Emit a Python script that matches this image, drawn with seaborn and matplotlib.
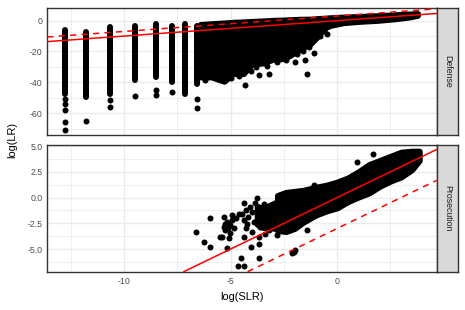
import numpy as np
import pandas as pd
import matplotlib
matplotlib.use("Agg")
import matplotlib.pyplot as plt
import seaborn as sns

# ---------------- data ----------------
panels = ["Defense", "Prosecution"]
solid_intercepts = [0.0, 0.0]      # identity line y = x
dashed_intercepts = [3.0, -3.0]    # y = x + 3 / y = x - 3
line_slope = 1.0

# Defense: discrete log(SLR) columns (vertical runs of points)
def_col_x = [-12.79, -11.78, -10.64, -9.47, -8.52, -7.75, -7.12, -6.57]
def_col_top = [-5.8, -7.3, -4.0, -3.6, -2.5, -3.6, -2.1, -3.6]
def_col_bottom = [-47.3, -49.4, -47.3, -38.6, -36.5, -39.7, -47.3, -40.8]

# Defense: dense cloud envelope
def_cloud_x = [-6.42, -5.9, -5.3, -4.9, -4.4, -4.0, -3.5, -3.0, -2.5, -2.2, -1.7,
               -1.25, -0.94, -0.7, -0.5, -0.3, 0.3, 1.0, 1.9, 2.7, 3.4, 3.77]
def_cloud_upper = [-2.5, -2.0, -1.5, -1.1, -0.8, -0.5, -0.2, 0.2, 0.4, 0.6, 0.9,
                   1.0, 1.3, 1.5, 1.7, 1.9, 2.3, 2.7, 3.2, 3.8, 4.3, 4.6]
def_cloud_lower = [-36.5, -36.5, -39.3, -34.3, -34.3, -28.0, -27.5, -25.0, -24.6, -22.4, -18.1,
                   -14.9, -10.5, -6.5, -4.1, -3.0, -1.3, -0.5, 0.2, 1.2, 2.4, 3.5]

# Defense: isolated points
def_pts_x = [-12.79, -12.79, -12.79, -12.79, -12.79, -11.78, -10.64, -10.64, -9.47,
             -8.52, -8.52, -7.75, -6.57, -6.57,
             -4.34, -4.02, -3.68, -3.2, -2.0, -1.49, -1.41, -1.1, -0.5, -5.6, -4.6,
             -6.2, -5.0, -3.8, -3.3, -2.8, -2.4, -1.9, -1.6, -1.3, -0.8, -0.6]
def_pts_y = [-50.9, -54.1, -57.8, -66.0, -70.8, -64.9, -51.3, -56.1, -48.7,
             -44.9, -48.1, -46.3, -50.9, -56.7,
             -41.6, -32.6, -35.5, -34.8, -26.7, -25.6, -34.6, -20.9, -8.8, -38.0, -36.0,
             -38.2, -37.2, -30.0, -29.2, -27.0, -25.6, -21.8, -20.0, -17.0, -10.2, -7.0]

# Prosecution: dense cloud envelope (main band)
pro_cloud_x = [-2.8, -2.4, -2.0, -1.6, -1.0, -0.5, 0.0, 0.5, 1.0,
               1.5, 2.0, 2.5, 3.0, 3.5, 3.85]
pro_cloud_upper = [0.2, 0.5, 0.6, 0.7, 1.0, 1.2, 1.5, 1.9, 2.5,
                   3.2, 3.6, 4.0, 4.4, 4.5, 4.5]
pro_cloud_lower = [-3.2, -3.3, -3.0, -2.4, -1.7, -1.3, -1.0, -0.4, 0.05,
                   0.45, 1.1, 1.6, 2.0, 2.7, 3.6]

# Prosecution: secondary dense patch left of the band
pro_patch_x = [-3.75, -3.5, -3.2, -2.9]
pro_patch_upper = [-0.9, -1.0, -0.8, -0.5]
pro_patch_lower = [-2.6, -2.9, -2.9, -3.0]

# Prosecution: isolated points
pro_pts_x = [-6.61, -5.98, -6.26, -5.98, -5.48, -5.16, -4.49, -4.67, -4.38, -4.02,
             -3.65, -3.65, -2.04, -2.12, -1.96, 0.94, 1.69, -1.07, -1.41,
             -5.32, -5.16, -5.01, -4.85, -5.24, -5.01, -5.4, -5.09, -4.77, -4.93,
             -4.38, -4.3, -4.38, -4.3, -4.38, -3.99, -3.91, -3.99, -3.76, -3.68,
             -3.68, -3.6, -3.68, -3.37, -3.29, -3.21, -3.05, -2.98, -2.9, -2.74,
             -2.82, -4.62, -5.25, -5.12, -4.95, -5.3, -4.45, -4.2, -4.1, -4.25,
             -3.85, -3.45, -3.1, -3.4]
pro_pts_y = [-3.32, -2.02, -4.35, -4.78, -3.8, -4.93, -5.9, -6.62, -6.62, -4.78,
             -4.51, -5.9, -5.26, -5.4, -5.12, 3.48, 4.19, 1.21, -3.16,
             -1.86, -2.35, -2.67, -2.99, -3.16, -3.48, -3.8, -3.96, -2.02, -1.7,
             -0.56, -1.21, -2.18, -2.99, -3.8, -1.38, -2.35, -3.32, -0.08, -0.89,
             -1.86, -2.83, -3.8, -1.21, -2.18, -3.16, -0.73, -1.7, -2.67, -0.24,
             -3.64, -1.63, -2.6, -3.0, -2.2, -2.9, -1.6, -1.9, -0.9, -2.6,
             -0.5, -0.6, -1.2, -3.5]

x_ticks = [-10, -5, 0]
x_ticklabels = ["-10", "-5", "0"]
def_yticks = [-60, -40, -20, 0]
def_yticklabels = ["-60", "-40", "-20", "0"]
pro_yticks = [-5.0, -2.5, 0.0, 2.5, 5.0]
pro_yticklabels = ["-5.0", "-2.5", "0.0", "2.5", "5.0"]
x_minor = [-12.5, -7.5, -2.5, 2.5]
def_yminor = [-70, -50, -30, -10]
pro_yminor = [-6.25, -3.75, -1.25, 1.25, 3.75]

x_lim = (-13.6, 4.66)
def_ylim = (-74.5, 8.2)
pro_ylim = (-7.2, 5.1)

# ---------------- style ----------------
sns.set_theme(style="white")
plt.rcParams['font.family'] = ['Liberation Sans', 'DejaVu Sans']
plt.rcParams['axes.unicode_minus'] = False

W, H = 465, 310
fig = plt.figure(figsize=(W / 100, H / 100), dpi=100)

def fr(x0, y0, x1, y1):
    return [x0 / W, 1 - y1 / H, (x1 - x0) / W, (y1 - y0) / H]

ax_def = fig.add_axes(fr(47.3, 8, 436.5, 135.5))
ax_pro = fig.add_axes(fr(47.3, 145, 436.5, 271.7))
st_def = fig.add_axes(fr(437.2, 8, 457.5, 135.5))
st_pro = fig.add_axes(fr(437.2, 145, 457.5, 271.7))

dot_d = 6.0 * 72 / 100       # marker diameter in points
dot_s = dot_d ** 2
grid_c = "#EBEBEB"
tick_c = "#4D4D4D"

def style_axes(ax, yticks, yticklabels, yminor, ylim, show_x):
    ax.set_xlim(*x_lim)
    ax.set_ylim(*ylim)
    for v in x_minor:
        ax.axvline(v, color=grid_c, lw=0.55, zorder=0)
    for v in yminor:
        ax.axhline(v, color=grid_c, lw=0.55, zorder=0)
    for v in x_ticks:
        ax.axvline(v, color=grid_c, lw=1.0, zorder=0)
    for v in yticks:
        ax.axhline(v, color=grid_c, lw=1.0, zorder=0)
    ax.set_yticks(yticks)
    ax.set_yticklabels(yticklabels)
    ax.set_xticks(x_ticks)
    if show_x:
        ax.set_xticklabels(x_ticklabels)
    else:
        ax.set_xticklabels([])
    ax.tick_params(axis="both", colors="#333333", labelcolor=tick_c, labelsize=6.3,
                   length=2.0, width=0.8, pad=1.6, direction="out")
    if not show_x:
        ax.tick_params(axis="x", length=0)
    for sp in ax.spines.values():
        sp.set_color("#333333")
        sp.set_linewidth(1.0)
    ax.set_xlabel("")
    ax.set_ylabel("")
    ax.set_facecolor("white")

def draw_lines(ax, i):
    ax.axline((0, solid_intercepts[i]), slope=line_slope, color="red", lw=1.1, zorder=5)
    ax.axline((0, dashed_intercepts[i]), slope=line_slope, color="red", lw=1.1,
              linestyle=(0, (4, 3.5)), zorder=5)

def cloud(ax, xs, lo, hi):
    pc = ax.fill_between(xs, lo, hi, color="black", lw=dot_d, zorder=2)
    pc.set_joinstyle("round")

# ---- Defense panel ----
ax = ax_def
ax.vlines(def_col_x, def_col_bottom, def_col_top, colors="black", lw=dot_d,
          capstyle="round", zorder=2)
cloud(ax, def_cloud_x, def_cloud_lower, def_cloud_upper)
df_def = pd.DataFrame({"x": def_pts_x, "y": def_pts_y})
sns.scatterplot(data=df_def, x="x", y="y", ax=ax, color="black", s=dot_s,
                linewidth=0, zorder=3, legend=False)
draw_lines(ax, 0)
style_axes(ax, def_yticks, def_yticklabels, def_yminor, def_ylim, False)

# ---- Prosecution panel ----
ax = ax_pro
cloud(ax, pro_cloud_x, pro_cloud_lower, pro_cloud_upper)
cloud(ax, pro_patch_x, pro_patch_lower, pro_patch_upper)
df_pro = pd.DataFrame({"x": pro_pts_x, "y": pro_pts_y})
sns.scatterplot(data=df_pro, x="x", y="y", ax=ax, color="black", s=dot_s,
                linewidth=0, zorder=3, legend=False)
draw_lines(ax, 1)
style_axes(ax, pro_yticks, pro_yticklabels, pro_yminor, pro_ylim, True)

# ---- strips ----
for sax, name in zip([st_def, st_pro], panels):
    sax.set_facecolor("#D9D9D9")
    sax.set_xticks([])
    sax.set_yticks([])
    for sp in sax.spines.values():
        sp.set_color("#333333")
        sp.set_linewidth(1.0)
    sax.text(0.5, 0.5, name, rotation=-90, ha="center", va="center",
             fontsize=6.3, color="#1A1A1A", transform=sax.transAxes)

# ---- axis titles ----
fig.text(242 / W, 1 - 297 / H, "log(SLR)", ha="center", va="center",
         fontsize=7.9, color="black")
fig.text(12 / W, 1 - 140 / H, "log(LR)", ha="center", va="center",
         rotation=90, fontsize=7.9, color="black")

fig.savefig("out.png", dpi=100)
